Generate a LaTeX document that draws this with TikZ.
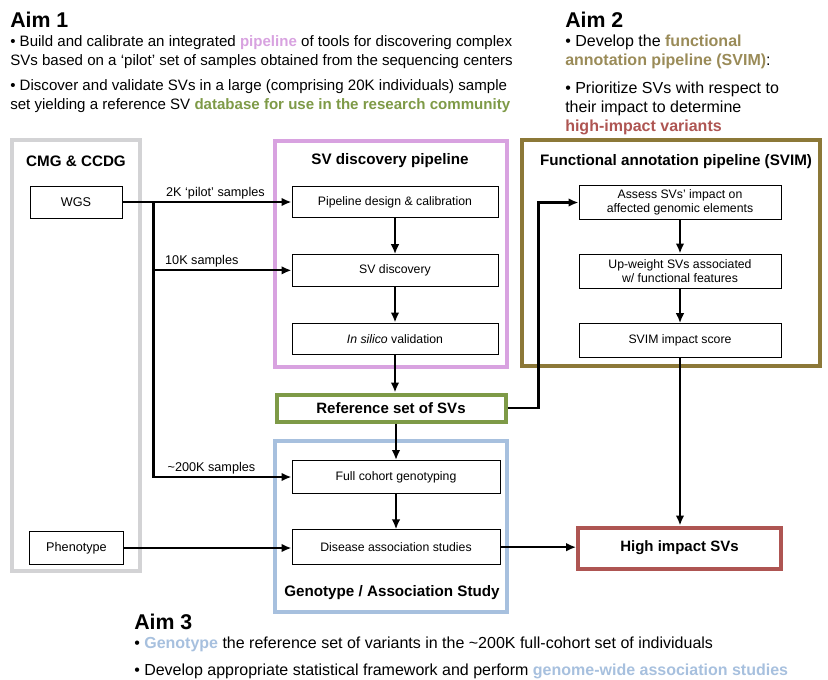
\documentclass[tikz,border=0pt]{standalone}
\usepackage{fontspec}
\setmainfont{Liberation Sans}
\usetikzlibrary{arrows.meta, positioning, calc}

\definecolor{cmggray}{HTML}{D3D3D5}
\definecolor{pipepurple}{HTML}{D8A2E0}
\definecolor{refgreen}{HTML}{7E9A47}
\definecolor{svimolive}{HTML}{8C7838}
\definecolor{svimtext}{HTML}{9A8B58}
\definecolor{highred}{HTML}{AE5552}
\definecolor{genoblue}{HTML}{A7C0DE}

\begin{document}
\begin{tikzpicture}
  [x=0.75pt, y=-0.75pt,
  % inner box
  block/.style = {rectangle,
    draw, line width=0.75pt, fill=white,
    node distance = 27pt,
    align=center,
    font=\fontsize{9.2}{10.5}\selectfont,
    minimum height = 23.5pt,
    minimum width = 154.5pt},
  % coloured outcome box
  keybox/.style = {rectangle,
    draw, line width=3pt, fill=white,
    font=\fontsize{11.25}{13}\selectfont\bfseries},
  % group frame
  frame/.style = {draw, line width=3pt},
  % frame title
  title/.style = {font=\fontsize{11.4}{13}\selectfont\bfseries},
  % aims
  aimhead/.style = {inner sep=0pt, font=\fontsize{16}{19}\selectfont\bfseries},
  aimtext/.style = {inner sep=0pt, align=left, font=\fontsize{12}{14.25}\selectfont},
  % sample label
  lbl/.style = {font=\fontsize{9.5}{11}\selectfont, inner sep=1.5pt},
  % line
  line/.style = {draw, line width=1.6pt, -{Latex[length=7.5pt, width=6.5pt]}},
  ]

  \useasboundingbox (0,0) rectangle (828,679);

  % frames
  \draw [frame, cmggray] (12,140) rectangle (140,571);
  \draw [frame, pipepurple] (275,141) rectangle (507,367);
  \draw [frame, svimolive] (522,140) rectangle (820,366);
  \draw [frame, genoblue] (275,441) rectangle (507,612);

  \node [title] (cmgt) at (76,161) {CMG \& CCDG};
  \node [title] (pipet) at (390,161) {SV discovery pipeline};
  \node [title] (svimt) at (676,162) {Functional annotation pipeline (SVIM)};
  \node [title] (genot) at (392,593) {Genotype / Association Study};

  % nodes
  \node [block, font=\fontsize{9.5}{11}\selectfont, minimum width=69pt, minimum height=24pt] (wgs) at (76,202) {WGS};
  \node [block, font=\fontsize{9.5}{11}\selectfont, minimum width=70pt, minimum height=24.75pt] (pheno) at (76.5,548) {Phenotype};

  \node [block] (design) at (395,202) {Pipeline design \& calibration};
  \node [block, below= of design] (discov) {SV discovery};
  \node [block, below= of discov] (valid) {\textit{In silico} validation};

  \node [keybox, draw=refgreen, minimum width=171.75pt, minimum height=20.25pt] (ref) at (391,408) {Reference set of SVs};

  \node [block, minimum width=156pt, minimum height=24.75pt] (geno) at (396,477) {Full cohort genotyping};
  \node [block, minimum width=156pt, minimum height=26pt, below= 26.5pt of geno] (assoc) {Disease association studies};

  \node [block, minimum width=151.5pt, minimum height=25.5pt] (assess) at (680,202.5) {Assess SVs’ impact on\\affected genomic elements};
  \node [block, minimum width=151.5pt, minimum height=25.5pt, below= 25pt of assess] (upw) {Up-weight SVs associated\\w/ functional features};
  \node [block, minimum width=151.5pt, minimum height=25pt, below= 26pt of upw] (score) {SVIM impact score};

  \node [keybox, draw=highred, minimum width=152pt, minimum height=30.75pt] (high) at (679.5,548) {High impact SVs};

  \coordinate (split) at ($(wgs.east)+(31,0)$);

  % aims (base = last line)
  \node [aimhead, anchor=base west] (aimone) at (10,27) {Aim 1};
  \node [aimtext, font=\fontsize{11.3}{14.25}\selectfont, anchor=base west] (aimonea) at (10,65.5) {• Build and calibrate an integrated \textcolor{pipepurple}{\bfseries pipeline} of tools for discovering complex\\SVs based on a ‘pilot’ set of samples obtained from the sequencing centers};
  \node [aimtext, font=\fontsize{11.3}{14.25}\selectfont, anchor=base west] (aimoneb) at (10,109.5) {• Discover and validate SVs in a large (comprising 20K individuals) sample\\set yielding a reference SV \textcolor{refgreen}{\bfseries database for use in the research community}};

  \node [aimhead, anchor=base west] (aimtwo) at (565,27) {Aim 2};
  \node [aimtext, anchor=base west] (aimtwoa) at (565,65.5) {• Develop the \textcolor{svimtext}{\bfseries functional}\\\textcolor{svimtext}{\bfseries annotation pipeline (SVIM)}:};
  \node [aimtext, anchor=base west] (aimtwob) at (565,131.5) {• Prioritize SVs with respect to\\their impact to determine\\\textcolor{highred}{\bfseries high-impact variants}};

  \node [aimhead, anchor=base west] (aimthree) at (134,629) {Aim 3};
  \node [aimtext, anchor=base west] (aimthreea) at (134,648.5) {• \textcolor{genoblue}{\bfseries Genotype} the reference set of variants in the \textasciitilde200K full-cohort set of individuals};
  \node [aimtext, anchor=base west] (aimthreeb) at (134,675.5) {• Develop appropriate statistical framework and perform \textcolor{genoblue}{\bfseries genome-wide association studies}};

  % path
  \path [line] (wgs) -- (design) node [lbl, above, pos=0.55] {2K ‘pilot’ samples};
  \path [line] (split |- discov.west) -- (discov.west) node [lbl, above, pos=0.35] {10K samples};
  \path [line] (split) |- (geno.west) node [lbl, above, pos=0.71] {\textasciitilde200K samples};
  \path [line] (design) -- (discov);
  \path [line] (discov) -- (valid);
  \path [line] (valid) -- (valid |- ref.north);
  \path [line] (geno |- ref.south) -- (geno);
  \path [line] (geno) -- (assoc);
  \path [line] (pheno) -- (pheno -| assoc.west);
  \path [line] (assoc) -- (assoc -| high.west);
  \path [line] (ref.east) -- ++(31,0) |- (assess.west);
  \path [line] (assess) -- (upw);
  \path [line] (upw) -- (score);
  \path [line] (score) -- (score |- high.north);

\end{tikzpicture}
\end{document}
